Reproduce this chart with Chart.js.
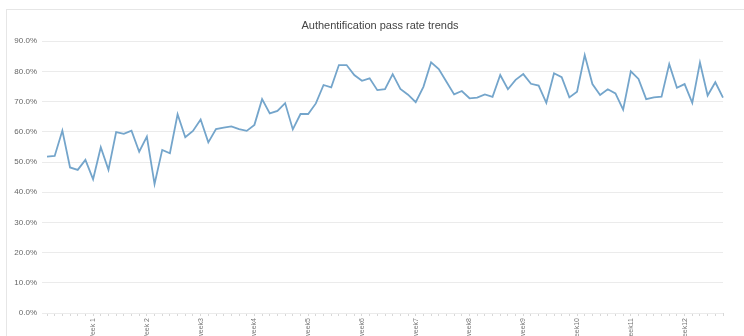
<!DOCTYPE html>
<html>
<head>
<meta charset="utf-8">
<script src="https://cdn.jsdelivr.net/npm/chart.js@4"></script>
<style>
  html, body { margin: 0; padding: 0; background: #fff; overflow: hidden; width: 744px; height: 336px; }
  #wrap { position: relative; width: 760px; height: 336px; }
  #frame { position: absolute; left: 6px; top: 9px; right: 0; bottom: 0;
           border-top: 1px solid #e6e6e6; border-left: 1px solid #e6e6e6; }
  canvas { position: absolute; left: 0; top: 0; }
</style>
</head>
<body>
<div id="wrap">
  <div id="frame"></div>
  <canvas id="chartPassRate"></canvas>
</div>
<script>
// pass rate (%) per day
const passRate = [
  51.8, 52.0, 60.4, 48.2, 47.4, 50.7, 44.3, 54.9, 47.4, 59.9,
  59.3, 60.4, 53.4, 58.4, 42.7, 54.0, 52.9, 65.8, 58.2, 60.3,
  64.1, 56.5, 60.9, 61.4, 61.8, 60.9, 60.3, 62.3, 70.8, 66.1,
  66.9, 69.5, 60.8, 65.9, 65.9, 69.4, 75.5, 74.7, 82.1, 82.1,
  78.8, 76.9, 77.7, 73.8, 74.1, 79.1, 74.2, 72.3, 69.8, 74.9,
  83.0, 80.8, 76.6, 72.4, 73.5, 71.1, 71.3, 72.4, 71.6, 78.8,
  74.1, 77.2, 79.1, 75.9, 75.3, 69.6, 79.4, 78.1, 71.4, 73.3,
  85.4, 75.8, 72.2, 74.1, 72.7, 67.3, 80.0, 77.5, 70.8, 71.4,
  71.6, 82.4, 74.6, 75.8, 69.6, 82.9, 72.0, 76.4, 71.3
];

const weekLabels = ['Week 1', 'Week 2', 'week3', 'week4', 'week5', 'week6',
  'week7', 'week8', 'week9', 'week10', 'week11', 'week12'];

// one tick per day, week name on the 7th day of each week
const days = passRate.map((v, i) => (i % 7 === 6 ? weekLabels[(i - 6) / 7] || '' : ''));

const passChart = new Chart(
  document.getElementById('chartPassRate'),
  {
    type: 'line',
    data: {
      labels: days,
      datasets: [{
        label: 'pass rate',
        data: passRate,
        borderColor: '#74a5cb',
        borderWidth: 1.8,
        pointRadius: 0,
        tension: 0,
        fill: false
      }]
    },
    options: {
      responsive: true,
      maintainAspectRatio: false,
      animation: false,
      layout: {
        padding: 0
      },
      plugins: {
        legend: { display: false },
        tooltip: { enabled: false },
        title: {
          display: true,
          text: 'Authentification pass rate trends',
          color: '#444',
          font: { family: 'Liberation Sans', size: 11, weight: 'normal' },
          padding: { top: 19, bottom: 9 }
        }
      },
      scales: {
        x: {
          grid: {
            drawOnChartArea: false,
            drawTicks: true,
            tickLength: 3,
            color: '#d8d8d8'
          },
          border: { display: false },
          ticks: {
            autoSkip: false,
            minRotation: 90,
            maxRotation: 90,
            padding: 2,
            color: '#777',
            font: { family: 'Liberation Sans', size: 7 }
          },
          afterFit: (scale) => { scale.height = 23; }
        },
        y: {
          min: 0,
          max: 90,
          grid: {
            color: '#ebebeb',
            tickLength: 5
          },
          border: { display: false },
          ticks: {
            stepSize: 10,
            padding: 5,
            color: '#666',
            font: { family: 'Liberation Sans', size: 8 },
            callback: (v) => v.toFixed(1) + '%'
          },
          afterFit: (scale) => { scale.width = 47; }
        },
        // empty right axis, only keeps the right margin so the title stays centred like the original
        yRight: {
          position: 'right',
          grid: { display: false },
          border: { display: false },
          ticks: { display: false },
          afterFit: (scale) => { scale.width = 37; }
        }
      }
    }
  });
</script>
</body>
</html>
